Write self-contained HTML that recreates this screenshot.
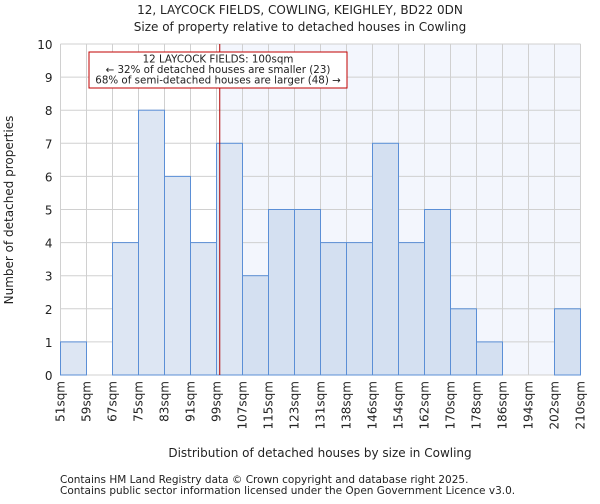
<!DOCTYPE html>
<html><head><meta charset="utf-8"><style>
body{margin:0;background:#fff;font-family:"DejaVu Sans","Liberation Sans",sans-serif;}
svg text{font-family:"DejaVu Sans","Liberation Sans",sans-serif;fill:#222;}
</style></head><body>
<svg id="chart" width="600" height="500">
<text x="300" y="14" font-size="12" text-anchor="middle">12, LAYCOCK FIELDS, COWLING, KEIGHLEY, BD22 0DN</text>
<text x="300" y="31" font-size="12" text-anchor="middle">Size of property relative to detached houses in Cowling</text>
<g id="plot"></g>
<text x="320" y="457" font-size="12" text-anchor="middle">Distribution of detached houses by size in Cowling</text>
<text transform="translate(13,210) rotate(-90)" font-size="12" text-anchor="middle">Number of detached properties</text>
<text x="60" y="483" font-size="10.5" fill="#333">Contains HM Land Registry data © Crown copyright and database right 2025.</text>
<text x="60" y="494" font-size="10.5" fill="#333">Contains public sector information licensed under the Open Government Licence v3.0.</text>
</svg>
<script>
const categories=["51sqm","59sqm","67sqm","75sqm","83sqm","91sqm","99sqm","107sqm","115sqm","123sqm","131sqm","138sqm","146sqm","154sqm","162sqm","170sqm","178sqm","186sqm","194sqm","202sqm","210sqm"];
const counts=[1,0,4,8,6,4,7,3,5,5,4,4,7,4,5,2,1,0,0,2];
const yTicks=[0,1,2,3,4,5,6,7,8,9,10];
const markerValue=100;
const binStart=51, binWidth=8;
const NS="http://www.w3.org/2000/svg";
const g=document.getElementById('plot');
const X0=60.5,X1=580.5,Y0=375,Y1=44,YMAX=10;
const n=counts.length,bw=(X1-X0)/n;
function xIdx(i){return X0+i*bw;}
function xVal(v){return X0+(v-binStart)/binWidth*bw;}
function y(v){return Y0-(v/YMAX)*(Y0-Y1);}
function mk(t,a){const e=document.createElementNS(NS,t);for(const k in a)e.setAttribute(k,a[k]);g.appendChild(e);return e;}
const mx=xVal(markerValue);
let e=mk('rect',{x:mx,y:Y1,width:X1-mx,height:Y0-Y1,fill:'#f3f6fd'});


for(let i=0;i<=n;i++){e=mk('line',{x1:xIdx(i),x2:xIdx(i),y1:Y1,y2:Y0,stroke:'#d0d0d0','stroke-width':1});

}
yTicks.forEach(t=>{e=mk('line',{x1:X0,x2:X1,y1:y(t),y2:y(t),stroke:'#d0d0d0','stroke-width':1});


const tx=mk('text',{x:X0-8,y:y(t)+5,'font-size':12,'text-anchor':'end'});tx.textContent=t;

});
counts.forEach((c,i)=>{if(c<=0)return;const right=xIdx(i)>=mx-1;
e=mk('rect',{x:xIdx(i),y:y(c),width:bw,height:Y0-y(c),fill:right?'#d4e0f1':'#dde6f3',stroke:'#5b8fd6','stroke-width':1});

});
categories.forEach((c,i)=>{const tx=mk('text',{transform:`translate(${xIdx(i)+4},381) rotate(-90)`,'font-size':12,'text-anchor':'end'});tx.textContent=c;

});
e=mk('line',{x1:mx,x2:mx,y1:Y1,y2:Y0,stroke:'#b00000','stroke-width':1});


e=mk('rect',{x:89,y:52,width:258,height:36,fill:'#fff',stroke:'#c00000','stroke-width':1});


["12 LAYCOCK FIELDS: 100sqm","← 32% of detached houses are smaller (23)","68% of semi-detached houses are larger (48) →"].forEach((s,k)=>{const tx=mk('text',{x:218,y:62.5+k*10.5,'font-size':10.3,'text-anchor':'middle'});tx.textContent=s;

});
</script>
</body></html>
